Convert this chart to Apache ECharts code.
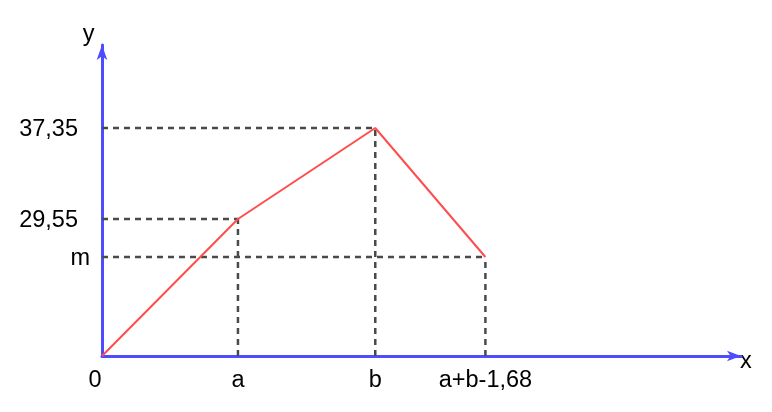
<!DOCTYPE html>
<html>
<head>
<meta charset="utf-8">
<script src="https://cdn.jsdelivr.net/npm/echarts@6/dist/echarts.min.js"></script>
<style>html,body{margin:0;padding:0;background:#fff;}#chart{width:772px;height:412px;}</style>
</head>
<body>
<div id="chart"></div>
<script>
// Schematic chart: positions are in drawing units
const xLabels = ['0', 'a', 'b', 'a+b-1,68'];
const xPos = [0, 1, 2.01, 2.82];
const yLabels = ['m', '29,55', '37,35'];
const yPos = [16.22, 22.44, 37.35];
const polyX = [0, 1, 2.01, 2.82];
const polyY = [0, 22.44, 37.35, 16.22];
const xMax = 4.70;
const yMax = 50.95;

const FONT = "'Liberation Sans', Arial, sans-serif";
const FS = 23.5;
const AXIS_COLOR = '#4d4dff';

const redData = polyX.map((x, i) => [x, polyY[i]]);
const guideSeries = [];
for (let i = 1; i < polyX.length; i++) {
  const x = polyX[i], y = polyY[i];
  guideSeries.push({
    type: 'line', data: [[0, y], [x, y]], symbol: 'none', silent: true, z: 1,
    lineStyle: { color: '#4a4a4a', width: 2.5, type: [6, 5] }
  });
  guideSeries.push({
    type: 'line', data: [[x, 0], [x, y]], symbol: 'none', silent: true, z: 1,
    lineStyle: { color: '#4a4a4a', width: 2.5, type: [6, 5] }
  });
}

const chart = echarts.init(document.getElementById('chart'), null, { renderer: 'canvas' });
chart.setOption({
  animation: false,
  backgroundColor: '#fff',
  grid: { left: 102, right: 31, top: 45, bottom: 56, containLabel: false },
  xAxis: {
    type: 'value', min: 0, max: xMax,
    name: 'x', nameLocation: 'end', nameGap: -1,
    nameTextStyle: { fontFamily: FONT, fontSize: FS, color: '#000',
      verticalAlign: 'top', lineHeight: 12 },
    axisLine: { show: true, onZero: false, symbol: ['none', 'arrow'], symbolSize: [8, 14],
      lineStyle: { color: AXIS_COLOR, width: 3 } },
    axisTick: { show: false },
    splitLine: { show: false },
    axisLabel: {
      customValues: xPos,
      margin: 13,
      fontFamily: FONT, fontSize: FS, color: '#000',
      formatter: function (v) {
        let idx = 0, best = Infinity;
        xPos.forEach((p, i) => { if (Math.abs(p - v) < best) { best = Math.abs(p - v); idx = i; } });
        const t = xLabels[idx];
        return t === '0' ? '{z|0}' : t;
      },
      rich: { z: { fontFamily: FONT, fontSize: FS, color: '#000', padding: [0, 14, 0, 0] } }
    }
  },
  yAxis: {
    type: 'value', min: 0, max: yMax,
    name: 'y', nameLocation: 'end', nameGap: -2,
    nameTextStyle: { fontFamily: FONT, fontSize: FS, color: '#000', padding: [0, 27, 0, 0] },
    axisLine: { show: true, onZero: false, symbol: ['none', 'arrow'], symbolSize: [8, 15],
      lineStyle: { color: AXIS_COLOR, width: 3 } },
    axisTick: { show: false },
    splitLine: { show: false },
    axisLabel: {
      customValues: yPos,
      margin: 12,
      fontFamily: FONT, fontSize: FS, color: '#000',
      formatter: function (v) {
        let idx = 0, best = Infinity;
        yPos.forEach((p, i) => { if (Math.abs(p - v) < best) { best = Math.abs(p - v); idx = i; } });
        const t = yLabels[idx];
        return t === 'm' ? '{m|m}' : '{n|' + t + '}';
      },
      rich: {
        m: { fontFamily: FONT, fontSize: FS, color: '#000', padding: [3, 0, 0, 0] },
        n: { fontFamily: FONT, fontSize: FS, color: '#000', padding: [3, 12, 0, 0] }
      }
    }
  },
  series: guideSeries.concat([{
    type: 'line', data: redData, symbol: 'none', z: 3,
    lineStyle: { color: '#ff4d4d', width: 2 }
  }])
});
</script>
</body>
</html>
